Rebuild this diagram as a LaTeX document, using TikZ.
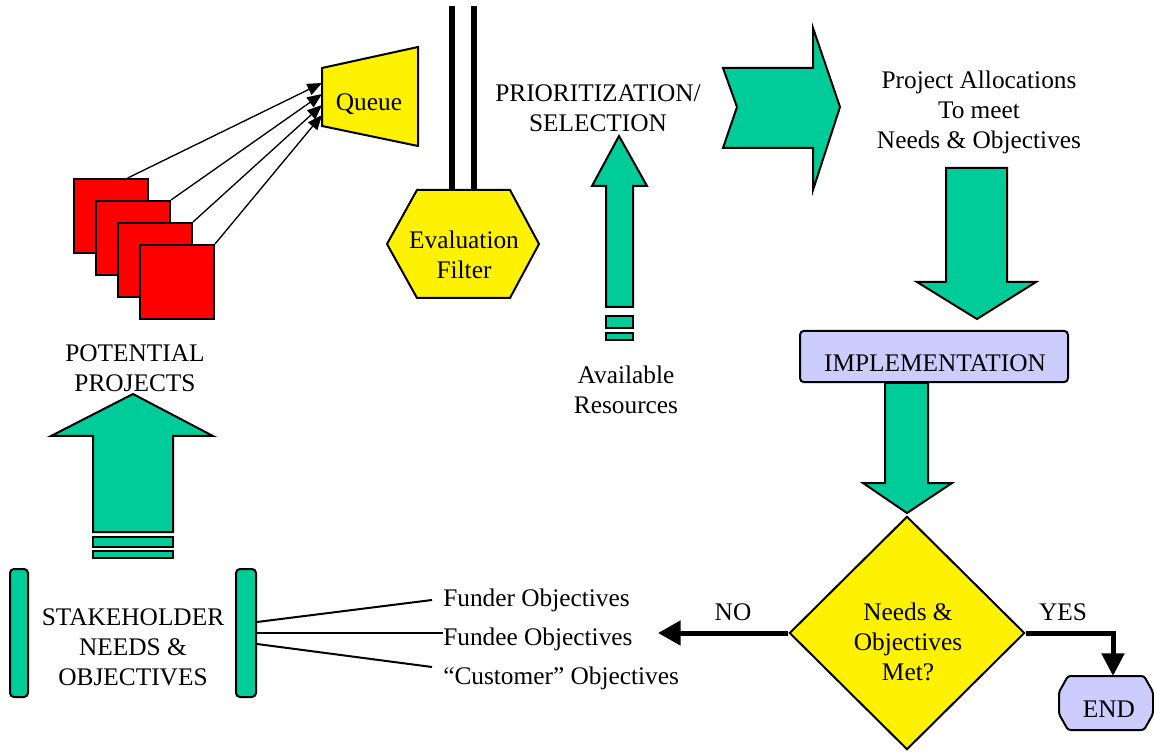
\documentclass[tikz,border=0pt]{standalone}
\usepackage{fontspec}
\setmainfont{Liberation Serif}
\usetikzlibrary{arrows.meta,shapes.geometric,calc}
\definecolor{flowgreen}{RGB}{0,204,153}
\definecolor{boxlav}{RGB}{204,204,255}
\begin{document}
\begin{tikzpicture}[x=0.75pt,y=-0.75pt,
  every node/.style={font=\fontsize{19}{22.5}\selectfont},
  lbl/.style={align=center,inner sep=0pt},
  blk/.style={fill=flowgreen,draw=black,line width=1.5pt,line join=miter},
  sq/.style={draw=black,fill=red,line width=1.5pt,minimum size=55.5pt,inner sep=0pt},
  yel/.style={fill=yellow,draw=black,line width=1.5pt,line join=miter},
  feed/.style={line width=1pt,-{Triangle[length=11pt,width=9pt]}},
  pipe/.style={line width=4.5pt},
  flowline/.style={line width=3.75pt,line join=miter,-{Triangle[length=17pt,width=18pt]}},
  tie/.style={line width=1.5pt},
  lavbox/.style={fill=boxlav,draw=black,line width=1.5pt}]
\useasboundingbox (0,0) rectangle (1154,752);

% ---- potential projects (stacked squares) feeding the queue ----
\node[sq] (sq1) at (111,216) {};
\node[sq] (sq2) at (133,238) {};
\node[sq] (sq3) at (155,260) {};
\node[sq] (sq4) at (177,282) {};

\path[yel] (322,68) -- (418,47) -- (418,146) -- (322,126) -- cycle;
\node[lbl] (queue) at (369,104) {Queue};
\coordinate (qin1) at (322,83);
\coordinate (qin2) at (322,94);
\coordinate (qin3) at (322,105);
\coordinate (qin4) at (322,115);

\draw[feed] ($(sq1.north west)!0.72!(sq1.north east)$) -- (qin1);
\draw[feed] (sq2.north east) -- (qin2);
\draw[feed] (sq3.north east) -- (qin3);
\draw[feed] (sq4.north east) -- (qin4);

% ---- evaluation filter with its feed pipes ----
\coordinate (hexTop) at (463,190);
\coordinate (pipeA) at (452,6);
\coordinate (pipeB) at (474,6);
\draw[pipe] (pipeA) -- (pipeA |- hexTop);
\draw[pipe] (pipeB) -- (pipeB |- hexTop);
\path[yel] (417,190) -- (510,190) -- (539,244) -- (510,298) -- (417,298) -- (387,244) -- cycle;
\node[lbl] (evalf) at (464,255) {Evaluation\\Filter};

% ---- prioritization ----
\node[lbl] (prio) at (598,108) {PRIORITIZATION/\\SELECTION};
\path[blk] (606,307) -- (606,186) -- (592,186) -- (619,136) -- (647,186) -- (633,186) -- (633,307) -- cycle;
\path[blk] (606,316) rectangle (633,328);
\path[blk] (606,333) rectangle (633,340);
\node[lbl] (avail) at (626,390) {Available\\Resources};

\path[blk] (723,68) -- (813,68) -- (813,28) -- (840,107) -- (813,190) -- (813,148) -- (723,148) -- (737,107) -- cycle;

\node[lbl] (alloc) at (979,112) {Project Allocations\\To meet\\Needs \& Objectives};
\path[blk] (946,168) -- (1007,168) -- (1007,282) -- (1036,282) -- (977,319) -- (917,282) -- (946,282) -- cycle;

% ---- implementation and decision ----
\path[blk] (885,383) -- (928,383) -- (928,483) -- (952,483) -- (907,513) -- (863,483) -- (885,483) -- cycle;
\node[lavbox,rounded corners=3pt,minimum width=201pt,minimum height=38.5pt,inner sep=0pt] (impl) at (934,356.5) {};
\node[lbl] (impltext) at (935,363) {IMPLEMENTATION};

\node[diamond,yel,aspect=1,minimum width=176.5pt,minimum height=175pt,inner sep=0pt] (dec) at (907,633) {};
\node[lbl] (dectext) at (908,642) {Needs \&\\Objectives\\Met?};

% end terminal: octagonal box with softened corners
\path[lavbox,rounded corners=2pt] (1068,676) -- (1144,676) -- (1153,692) -- (1153,714) -- (1144,730)
  -- (1068,730) -- (1059,714) -- (1059,692) -- cycle;
\coordinate (endTop) at (1113,676);
\node[lbl] (endtext) at (1109,709) {END};

\coordinate (noend) at (658,633);
\coordinate (yescorner) at (1113,633);
\draw[flowline] (dec.west) -- (noend);
\draw[flowline,-{Triangle[length=17pt,width=16.5pt]}] (dec.east) -- (yescorner) -- (endTop);
\node[lbl] (nolbl) at (733,612) {NO};
\node[lbl] (yeslbl) at (1063,612) {YES};

% ---- stakeholder needs ----
\node[lbl] (potential) at (135,368) {POTENTIAL\\PROJECTS};
\path[blk] (93,532) -- (93,436) -- (51,436) -- (133,394) -- (213,436) -- (173,436) -- (173,532) -- cycle;
\path[blk] (93,537) rectangle (173,547);
\path[blk] (93,551) rectangle (173,558);

\node[blk,rounded corners=3pt,minimum width=13.5pt,minimum height=96pt,inner sep=0pt] (barL) at (19,633) {};
\node[blk,rounded corners=3pt,minimum width=15pt,minimum height=96pt,inner sep=0pt] (barR) at (246,633) {};
\node[lbl] (stake) at (133,647) {STAKEHOLDER\\NEEDS \&\\OBJECTIVES};

\node[inner sep=0pt,anchor=base west] (funder) at (443,606) {Funder Objectives};
\node[inner sep=0pt,anchor=base west] (fundee) at (443,645) {Fundee Objectives};
\node[inner sep=0pt,anchor=base west] (cust) at (443,684) {“Customer” Objectives};

\coordinate (t1) at (432,600);
\coordinate (t3) at (432,667);
\draw[tie] ($(barR.east)+(0,-11)$) -- (t1);
\draw[tie] (barR.east) -- (fundee.west |- barR.east);
\draw[tie] ($(barR.east)+(0,11)$) -- (t3);
\end{tikzpicture}
\end{document}
